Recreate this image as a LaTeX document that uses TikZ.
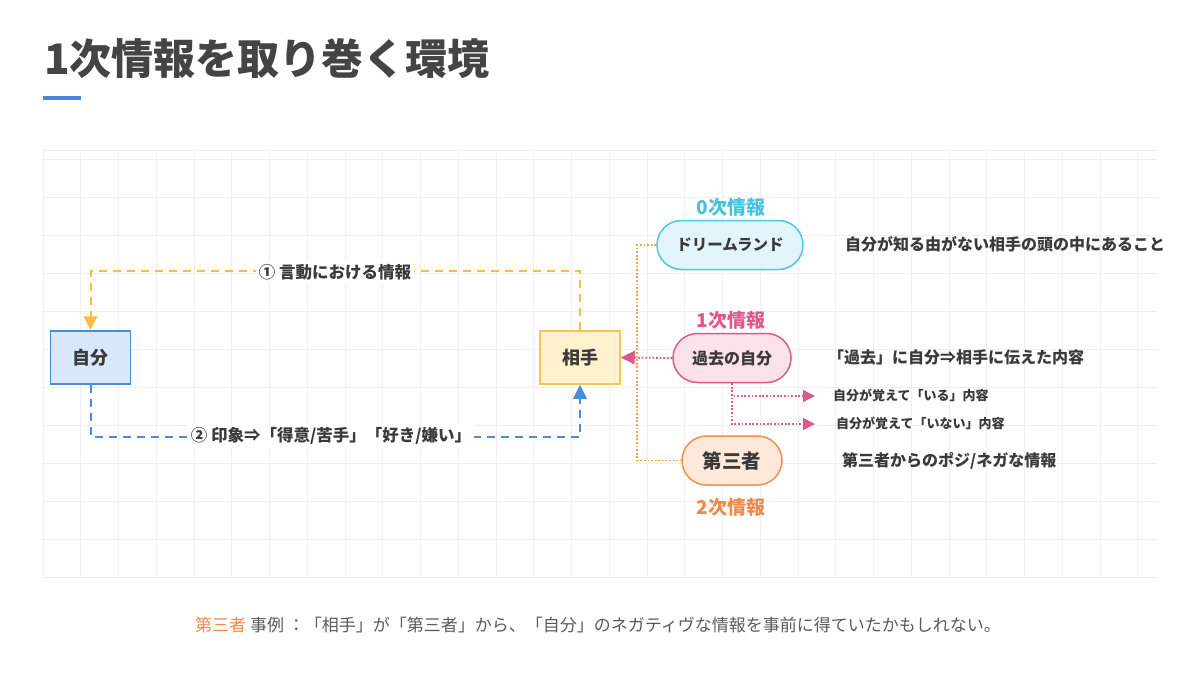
\documentclass[tikz,border=0pt]{standalone}
\usepackage{fontspec}
\setmainfont{Noto Sans CJK JP}
\usetikzlibrary{arrows.meta}
\definecolor{txt}{HTML}{3A3A3A}
\definecolor{titlec}{HTML}{444444}
\definecolor{gridc}{HTML}{EFEFEF}
\definecolor{ublue}{HTML}{4A86DF}
\definecolor{bfill}{HTML}{DAE8FC}
\definecolor{bline}{HTML}{4A8CDC}
\definecolor{yfill}{HTML}{FFF2CC}
\definecolor{yline}{HTML}{F5C35A}
\definecolor{ydash}{HTML}{F7BD45}
\definecolor{cfill}{HTML}{E1F5FA}
\definecolor{cline}{HTML}{4CC8E0}
\definecolor{ctext}{HTML}{45C3DE}
\definecolor{pfill}{HTML}{FBE2EA}
\definecolor{pline}{HTML}{DC5A8A}
\definecolor{ptext}{HTML}{E0588B}
\definecolor{ofill}{HTML}{FDE8DA}
\definecolor{oline}{HTML}{F0904F}
\definecolor{otext}{HTML}{F08A4B}
\definecolor{odot}{HTML}{F5A04A}
\definecolor{graytxt}{HTML}{5A5A5A}
\tikzset{
  fs/.style={font=\fontsize{#1}{#1}\selectfont},
  bfs/.style={font=\fontsize{#1}{#1}\selectfont\bfseries},
  sqbox/.style={draw, line width=1.5pt, minimum width=80pt, minimum height=53pt, inner sep=0pt, bfs=18, text=txt},
  pill/.style={draw, line width=1.5pt, rounded corners=24.5pt, minimum height=49pt, inner sep=0pt, text=txt},
  lvl/.style={bfs=19, inner sep=0pt},
  desc/.style={bfs=16, text=txt, anchor=west, inner sep=0pt},
  small/.style={bfs=13, text=txt, anchor=west, inner sep=0pt},
  lbl/.style={bfs=16.5, text=txt, fill=white, inner sep=3pt},
  tip/.style={-{Triangle[width=13.5pt,length=14pt]}},
  stip/.style={-{Triangle[width=12pt,length=12pt]}},
  ydashed/.style={ydash, line width=2pt, dash pattern=on 8pt off 6pt},
  bdashed/.style={bline, line width=2pt, dash pattern=on 8pt off 6pt},
  pdotted/.style={pline, line width=1.8pt, dash pattern=on 1.8pt off 1.8pt},
  odotted/.style={odot, line width=1.8pt, dash pattern=on 1.8pt off 1.8pt},
}
\begin{document}
\begin{tikzpicture}[x=1pt,y=-1pt]
\useasboundingbox (0,0) rectangle (1200,675);
\fill[white] (0,0) rectangle (1200,675);
% grid
\foreach \i in {0,...,29} \draw[gridc, line width=1pt] ({43+37.75*\i},150) -- ({43+37.75*\i},576);
\draw[gridc, line width=1pt] (43,150) -- (1157,150);
\foreach \j in {0,...,11} \draw[gridc, line width=1pt] (43,{159+38*\j}) -- (1157,{159+38*\j});
% title
\node[bfs=42, text=titlec, anchor=west, inner sep=0pt] (title) at (44,59) {1次情報を取り巻く環境};
\fill[ublue] (43,95.5) rectangle (81,99.5);
% main boxes
\node[sqbox, fill=bfill, draw=bline] (jibun) at (90.5,357.5) {自分};
\node[sqbox, fill=yfill, draw=yline] (aite) at (580,357.5) {相手};
% pills
\node[pill, fill=cfill, draw=cline, minimum width=146pt, bfs=15.5] (dream) at (730,245) {ドリームランド};
\node[pill, fill=pfill, draw=pline, minimum width=118pt, bfs=16] (kako) at (732,358) {過去の自分};
\node[pill, fill=ofill, draw=oline, minimum width=100pt, bfs=19.5] (third) at (732,460.5) {第三者};
% level labels
\node[lvl, text=ctext] (l0) at (731,207) {0次情報};
\node[lvl, text=ptext] (l1) at (731,320) {1次情報};
\node[lvl, text=otext] (l2) at (731,507) {2次情報};
% descriptions
\node[desc] (d0) at (845,244) {自分が知る由がない相手の頭の中にあること};
\node[desc] (d1) at (828,357) {「過去」に自分⇒相手に伝えた内容};
\node[small] (s1) at (833,395) {自分が覚えて「いる」内容};
\node[small] (s2) at (836,423) {自分が覚えて「いない」内容};
\node[desc] (d2) at (842,461) {第三者からのポジ/ネガな情報};
% connectors
\draw[ydashed, tip] (aite.north) -- ++(0,-59) -| (jibun.north);
\node[lbl] (c1) at (335,272) {① 言動における情報};
\draw[bdashed, tip] (jibun.south) -- ++(0,52) -| (aite.south);
\node[lbl] (c2) at (331,436) {② 印象⇒「得意/苦手」「好き/嫌い」};
\draw[odotted] (dream.west) -- ++(-19,0) |- (third.west);
\draw[pdotted, tip] (kako.west) -- (aite.east);
\coordinate (e1) at (815,396);
\coordinate (e2) at (815,424);
\draw[pdotted, stip] (kako.south) |- (e1);
\draw[pdotted, stip] (kako.south) |- (e2);
% bottom note
\node[fs=17, text=graytxt, inner sep=0pt] (note) at (598,625) {\textcolor{otext}{第三者} 事例 ：「相手」が「第三者」から、「自分」のネガティヴな情報を事前に得ていたかもしれない。};
\end{tikzpicture}
\end{document}
